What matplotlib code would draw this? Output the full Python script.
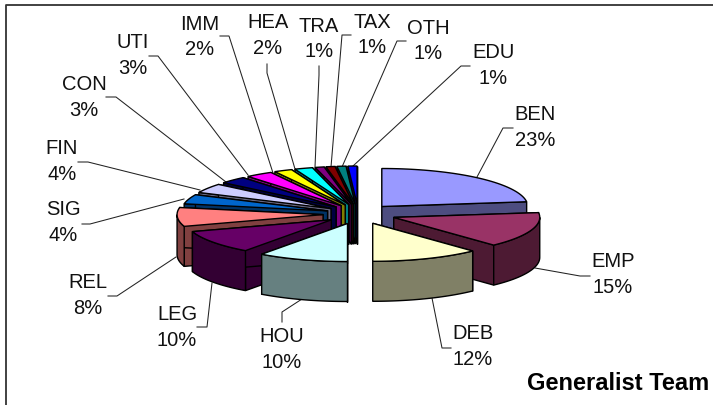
import numpy as np
import matplotlib
matplotlib.use("Agg")
import matplotlib.pyplot as plt
from matplotlib.colors import to_rgb

plt.rcParams['font.family'] = ['Liberation Sans', 'DejaVu Sans']

categories = ['BEN', 'EMP', 'DEB', 'HOU', 'LEG', 'REL', 'SIG', 'FIN',
              'CON', 'UTI', 'IMM', 'HEA', 'TRA', 'TAX', 'OTH', 'EDU']
values = [23, 15, 12, 10, 10, 8, 4, 4, 3, 3, 2, 2, 1, 1, 1, 1]
colors = ['#9999FF', '#993366', '#FFFFCC', '#CCFFFF', '#660066', '#FF8080',
          '#0066CC', '#CCCCFF', '#000080', '#FF00FF', '#FFFF00', '#00FFFF',
          '#800080', '#800000', '#008080', '#0000FF']

# how far each slice is pulled out horizontally, in pixels
explode = [36, 38, 40, 34, 33, 35, 32, 32, 31, 30, 30, 30, 30, 30, 30, 30]

# label centres (name line, percent line is 25 px under it)
label_x = [535, 613, 473, 282, 177, 88, 63, 62, 84, 133, 200, 268, 319, 372, 428, 493]
label_y = [115, 262, 334, 337, 315, 283, 210, 149, 85, 43, 24, 23, 26, 22, 28, 53]

# leader lines, from the label to the pie
leaders = [
    [(513, 129), (503, 129), (477, 178)],
    [(590, 277), (580, 277), (535, 269)],
    [(451, 349), (442, 349), (432, 299)],
    [(282, 323), (282, 313), (302, 300)],
    [(197, 328), (207, 328), (212, 284)],
    [(108, 297), (117, 297), (176, 258)],
    [(82, 225), (90, 225), (184, 200)],
    [(78, 163), (88, 163), (200, 191)],
    [(106, 98), (116, 98), (226, 183)],
    [(149, 57), (158, 57), (248, 176)],
    [(220, 37), (229, 37), (273, 174)],
    [(267, 65), (267, 74), (295, 170)],
    [(319, 67), (319, 76), (315, 168)],
    [(351, 36), (342, 36), (331, 168)],
    [(406, 42), (397, 42), (342, 168)],
    [(470, 67), (461, 67), (353, 167)],
]

# pie geometry in pixels
cx, cy = 358, 215
rx, ry = 146, 38
ey = 10
depth = 40
lw = 1.0


def rim(apex, a0, a1):
    t = np.linspace(a0, a1, 40)
    return apex[0] + rx * np.sin(t), apex[1] - ry * np.cos(t)


fig = plt.figure(figsize=(7.13, 4.06), dpi=100)
ax = fig.add_axes([0, 0, 1, 1])
ax.set_xlim(0, 713)
ax.set_ylim(406, 0)
ax.axis('off')

# frame: only the top and left edges are in the crop
ax.plot([5.5, 5.5, 713], [406, 5.5, 5.5], color='#333333', lw=1.3, zorder=0)

for pts in leaders:
    ax.plot(*zip(*pts), color='#222222', lw=0.75, zorder=1)

ends = np.cumsum([0] + values) / sum(values) * 2 * np.pi
mids = (ends[:-1] + ends[1:]) / 2

# back slices first
order = sorted(range(len(values)), key=lambda k: -np.cos(mids[k]))
z = 2
for i in order:
    a0, a1 = ends[i], ends[i + 1]
    apex = (cx + explode[i] * np.sin(mids[i]), cy - ey * np.cos(mids[i]))
    top = np.array(to_rgb(colors[i]))
    side = top * 0.5
    xs, ys = rim(apex, a0, a1)

    # the two cut faces
    for k in (0, -1):
        ax.fill([apex[0], xs[k], xs[k], apex[0]],
                [apex[1], ys[k], ys[k] + depth, apex[1] + depth],
                facecolor=side, edgecolor='black', lw=lw, zorder=z)
        z += 1

    # outer wall, only the part that faces the viewer
    vis0, vis1 = max(a0, np.pi / 2), min(a1, 3 * np.pi / 2)
    if vis1 > vis0:
        wx, wy = rim(apex, vis0, vis1)
        ax.fill(np.r_[wx, wx[::-1]], np.r_[wy, wy[::-1] + depth],
                facecolor=side, edgecolor='black', lw=lw, zorder=z)
        z += 1

    ax.fill(np.r_[apex[0], xs], np.r_[apex[1], ys],
            facecolor=top, edgecolor='black', lw=lw, zorder=z)
    z += 1

for i, name in enumerate(categories):
    ax.text(label_x[i], label_y[i], name, fontsize=14.5, color='#111111',
            ha='center', va='center')
    ax.text(label_x[i], label_y[i] + 25.5, f"{values[i]}%", fontsize=14.5,
            color='#111111', ha='center', va='center')

ax.text(618, 384, 'Generalist Team', fontsize=17, fontweight='bold',
        color='black', ha='center', va='center')

fig.savefig('out.png', dpi=100)
